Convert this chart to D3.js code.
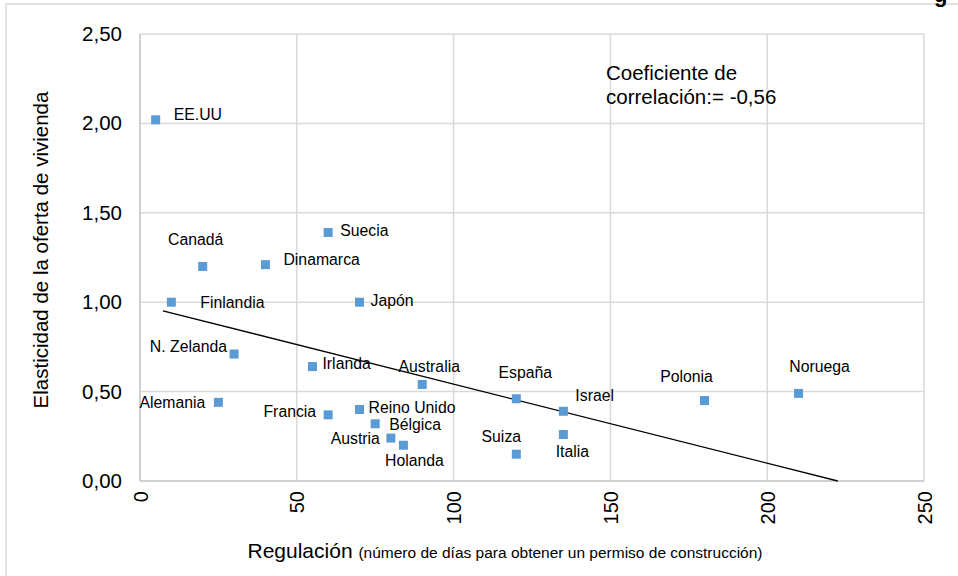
<!DOCTYPE html>
<html><head><meta charset="utf-8">
<script src="https://cdn.jsdelivr.net/npm/d3@7"></script>
<style>
html,body{margin:0;padding:0;background:#fff;}
svg{display:block;font-family:"Liberation Sans",Arial,sans-serif;}
</style></head>
<body><svg id="c" width="958" height="576"></svg>
<script>
// ---- data ----
const countries = ["EE.UU","Canadá","Dinamarca","Suecia","Finlandia","Japón","N. Zelanda","Irlanda","Australia","Alemania","Francia","Reino Unido","Bélgica","Austria","Holanda","España","Israel","Italia","Suiza","Polonia","Noruega"];
const regulation = [5,20,40,60,10,70,30,55,90,25,60,70,75,80,84,120,135,135,120,180,210];
const elasticity = [2.02,1.20,1.21,1.39,1.00,1.00,0.71,0.64,0.54,0.44,0.37,0.40,0.32,0.24,0.20,0.46,0.39,0.26,0.15,0.45,0.49];
const trendX = [7.3,222.5];
const trendY = [0.952,0.0];
const xTicks = [0,50,100,150,200,250];
const yTicks = [0,0.5,1,1.5,2,2.5];
const corrText = ["Coeficiente de","correlación:= -0,56"];

// ---- label placement (layout only) ----
const place = {
 "EE.UU":[18,-5,"start"],"Suecia":[12,-2,"start"],"Canadá":[-7,-27,"middle"],
 "Dinamarca":[18,-5,"start"],"Finlandia":[29,0,"start"],"Japón":[11,-2,"start"],
 "N. Zelanda":[-7,-8,"end"],"Irlanda":[10,-3,"start"],"Australia":[7,-18,"middle"],
 "Alemania":[-13,0,"end"],"Francia":[-12,-3,"end"],"Reino Unido":[9,-2,"start"],
 "Bélgica":[14,1,"start"],"Austria":[-11,0,"end"],"Holanda":[11,15,"middle"],
 "España":[9,-26,"middle"],"Israel":[12,-16,"start"],"Italia":[9,17,"middle"],
 "Suiza":[-15,-18,"middle"],"Polonia":[-18,-24,"middle"],"Noruega":[21,-27,"middle"]
};

const svg = d3.select("#c");
const L=140, R=924, T=34, B=481;
const x = d3.scaleLinear().domain([0,250]).range([L,R]);
const y = d3.scaleLinear().domain([0,2.5]).range([B,T]);
const fmt = d => d3.format(".2f")(d).replace(".",",");

// outer frame
svg.append("path").attr("d","M6,576V4H958").attr("fill","none").attr("stroke","#d9d9d9").attr("stroke-width",1.5);
// cut-off title glyph at top
svg.append("text").attr("x",934).attr("y",2).attr("font-size",22).attr("font-weight","bold").attr("fill","#000").text("g");

// grid
svg.append("g").selectAll("line").data(xTicks).join("line")
 .attr("x1",d=>x(d)).attr("x2",d=>x(d)).attr("y1",T).attr("y2",B)
 .attr("stroke","#d9d9d9").attr("stroke-width",1.5);
svg.append("g").selectAll("line").data(yTicks).join("line")
 .attr("x1",L).attr("x2",R).attr("y1",d=>y(d)).attr("y2",d=>y(d))
 .attr("stroke","#d9d9d9").attr("stroke-width",1.5);
svg.append("line").attr("x1",L).attr("x2",R).attr("y1",B).attr("y2",B).attr("stroke","#c8c8c8").attr("stroke-width",1.5);
svg.append("line").attr("x1",L).attr("x2",L).attr("y1",T).attr("y2",B).attr("stroke","#c8c8c8").attr("stroke-width",1.5);

// axes (labels only)
const yAxis = svg.append("g").attr("transform",`translate(${L},0)`)
 .call(d3.axisLeft(y).tickValues(yTicks).tickFormat(fmt).tickSize(0).tickPadding(18));
yAxis.select(".domain").remove();
yAxis.selectAll("text").attr("font-size",20.5).attr("fill","#000").attr("font-family","Liberation Sans, Arial, sans-serif");

const xAxis = svg.append("g").attr("transform",`translate(0,${B})`)
 .call(d3.axisBottom(x).tickValues(xTicks).tickFormat(d3.format("d")).tickSize(0));
xAxis.select(".domain").remove();
xAxis.selectAll("text").attr("font-size",20).attr("fill","#000").attr("font-family","Liberation Sans, Arial, sans-serif")
 .attr("transform","rotate(-90)").attr("text-anchor","end").attr("dy","0.35em").attr("x",-10).attr("y",0);

// trendline
svg.append("line").attr("x1",x(trendX[0])).attr("y1",y(trendY[0])).attr("x2",x(trendX[1])).attr("y2",y(trendY[1]))
 .attr("stroke","#000").attr("stroke-width",1.3);

// points
const pts = countries.map((c,i)=>({c, x:regulation[i], y:elasticity[i]}));
svg.append("g").selectAll("rect").data(pts).join("rect")
 .attr("x",d=>x(d.x)-4.5).attr("y",d=>y(d.y)-4.5).attr("width",9).attr("height",9).attr("fill","#5b9bd5");
svg.append("g").selectAll("text").data(pts).join("text")
 .attr("x",d=>x(d.x)+place[d.c][0]).attr("y",d=>y(d.y)+place[d.c][1])
 .attr("text-anchor",d=>place[d.c][2]).attr("dominant-baseline","central")
 .attr("font-size",15.8).attr("fill","#000").text(d=>d.c);

// correlation note
svg.append("g").selectAll("text").data(corrText).join("text")
 .attr("x",606).attr("y",(d,i)=>72+i*24).attr("dominant-baseline","central")
 .attr("font-size",20.5).attr("fill","#000").text(d=>d);

// axis titles
svg.append("text").attr("transform","translate(40,250) rotate(-90)").attr("text-anchor","middle")
 .attr("dominant-baseline","central").attr("font-size",20.5).attr("fill","#000").text("Elasticidad de la oferta de vivienda");
const xt = svg.append("text").attr("x",505).attr("y",558).attr("text-anchor","middle").attr("fill","#000");
xt.append("tspan").attr("font-size",21).text("Regulación ");
xt.append("tspan").attr("font-size",15.5).text("(número de días para obtener un permiso de construcción)");
</script></body></html>
